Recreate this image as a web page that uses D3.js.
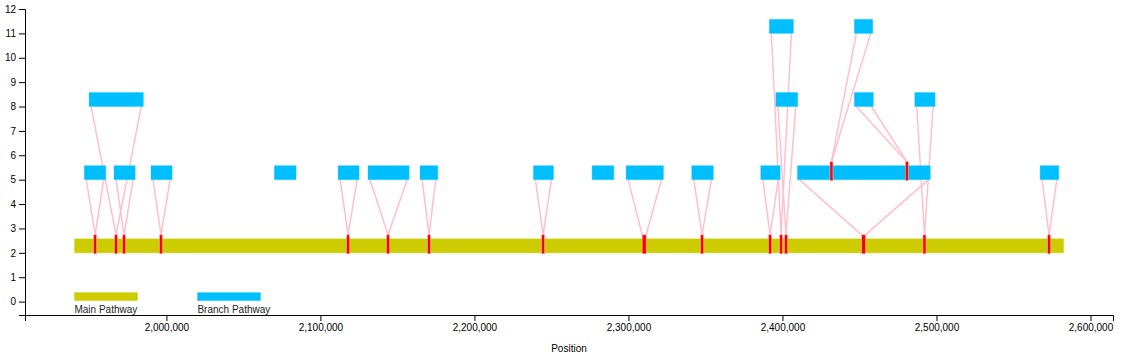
<!DOCTYPE html>
<html>
<head>
<meta charset="utf-8">
<script src="https://cdn.jsdelivr.net/npm/d3@7"></script>
<style>
  body { margin: 0; background: #fff; }
  svg { display: block; }
</style>
</head>
<body>
<div id="chart"></div>
<script>
var width = 1134,
    height = 358,
    margin = {left: 25, right: 21, top: 9, bottom: 43};

// main pathway
var mainStart = 1940300,
    mainEnd = 2582500,
    mainLevel = 2;

// branch pathways (start, end, stacking level)
var branchStart = [1946700, 1966000, 1990000, 2070100, 2111500, 2130900, 2164700, 2238300, 2276400, 2298500,
                   2341100, 2385900, 2409700, 2567300, 1949800, 2395700, 2446700, 2485900, 2391500, 2446700];
var branchEnd   = [1960600, 1979700, 2003700, 2084200, 2125100, 2157600, 2176200, 2251300, 2290500, 2322700,
                   2355100, 2398500, 2496000, 2579400, 1985000, 2409900, 2459000, 2499100, 2407100, 2458600];
var branchLevel = [5, 5, 5, 5, 5, 5, 5, 5, 5, 5,
                   5, 5, 5, 5, 8, 8, 8, 8, 11, 11];
// insertion site on the parent: -1 = main pathway, null = no link, n = branch n
var branchParent = [-1, -1, -1, null, -1, -1, -1, -1, null, -1,
                    -1, -1, -1, -1, -1, -1, 12, -1, -1, 12];
var siteStart = [1953700, 1972500, 1996500, null, 2118000, 2143900, 2170500, 2244600, null, 2308900,
                 2347800, 2392000, 2451400, 2573100, 1967300, 2402300, 2480800, 2492200, 2399100, 2431800];
var siteEnd   = [1953700, 1972500, 1996500, null, 2118000, 2143900, 2170500, 2244600, null, 2311500,
                 2347800, 2392000, 2453900, 2573100, 1967300, 2402300, 2480800, 2492200, 2399100, 2431800];

var xTicks = [2000000, 2100000, 2200000, 2300000, 2400000, 2500000, 2600000];
var yTicks = [0, 1, 2, 3, 4, 5, 6, 7, 8, 9, 10, 11, 12];
var legendLabels = ["Main Pathway", "Branch Pathway"];

var mainColor = "#cccc00",
    branchColor = "#00bfff",
    barH = 14,
    font = "'Liberation Sans', Arial, sans-serif";

var svg = d3.select("#chart").append("svg")
    .attr("width", width)
    .attr("height", height);

var pad = (mainEnd - mainStart) * 0.05;
var x = d3.scaleLinear()
    .domain([mainStart - pad, mainEnd + pad])
    .range([margin.left, width - margin.right]);

var y = d3.scaleLinear()
    .domain([-0.55, 12])
    .range([height - margin.bottom, margin.top]);

svg.append("g")
    .attr("transform", "translate(0," + (height - margin.bottom) + ")")
    .call(d3.axisBottom(x).tickValues(xTicks).tickFormat(d3.format(",")))
    .attr("font-family", font);

svg.append("g")
    .attr("transform", "translate(" + margin.left + ",0)")
    .call(d3.axisLeft(y).tickValues(yTicks))
    .attr("font-family", font);

svg.append("text")
    .attr("x", (margin.left + width - margin.right) / 2)
    .attr("y", height - 6)
    .attr("text-anchor", "middle")
    .attr("font-family", font)
    .attr("font-size", 10)
    .text("Position");

var branches = branchStart.map(function(s, i) {
  return {start: s, end: branchEnd[i], level: branchLevel[i], parent: branchParent[i],
          siteStart: siteStart[i], siteEnd: siteEnd[i]};
});

function parentLevel(b) {
  return b.parent === -1 ? mainLevel : branches[b.parent].level;
}

// links first, bars on top
var linked = branches.filter(function(b) { return b.parent !== null; });

linked.forEach(function(b) {
  var top = y(parentLevel(b)) - barH - 4;
  var sx = x(b.siteStart), ex = x(b.siteEnd);
  if (ex - sx < 1) { sx = ex = (sx + ex) / 2; }
  svg.append("line")
      .attr("x1", x(b.start) + 2).attr("y1", y(b.level))
      .attr("x2", sx).attr("y2", top)
      .attr("stroke", "pink").attr("stroke-width", 1.5);
  svg.append("line")
      .attr("x1", x(b.end) - 2).attr("y1", y(b.level))
      .attr("x2", ex).attr("y2", top)
      .attr("stroke", "pink").attr("stroke-width", 1.5);
});

svg.append("rect")
    .attr("x", x(mainStart))
    .attr("y", y(mainLevel) - barH)
    .attr("width", x(mainEnd) - x(mainStart))
    .attr("height", barH)
    .attr("fill", mainColor)
    .attr("stroke", mainColor)
    .attr("stroke-opacity", 0.35);

svg.selectAll(".branch")
  .data(branches)
  .enter().append("rect")
    .attr("class", "branch")
    .attr("x", function(d) { return x(d.start); })
    .attr("y", function(d) { return y(d.level) - barH; })
    .attr("width", function(d) { return x(d.end) - x(d.start); })
    .attr("height", barH)
    .attr("fill", branchColor)
    .attr("stroke", branchColor)
    .attr("stroke-opacity", 0.35);

svg.selectAll(".site")
  .data(linked)
  .enter().append("rect")
    .attr("class", "site")
    .attr("x", function(d) {
      var w = Math.max(3, x(d.siteEnd) - x(d.siteStart));
      return (x(d.siteStart) + x(d.siteEnd)) / 2 - w / 2;
    })
    .attr("y", function(d) { return y(parentLevel(d)) - barH - 4; })
    .attr("width", function(d) { return Math.max(3, x(d.siteEnd) - x(d.siteStart)); })
    .attr("height", barH + 5)
    .attr("fill", "red")
    .attr("stroke", "pink")
    .attr("stroke-width", 0.5);

// legend
var legendX = [x(mainStart), x(mainStart) + 123];
var legendColors = [mainColor, branchColor];
legendLabels.forEach(function(label, i) {
  svg.append("rect")
      .attr("x", legendX[i])
      .attr("y", y(0) - 9)
      .attr("width", 63)
      .attr("height", 8)
      .attr("fill", legendColors[i])
      .attr("stroke", legendColors[i])
      .attr("stroke-opacity", 0.35);
  svg.append("text")
      .attr("x", legendX[i])
      .attr("y", y(0) + 11)
      .attr("font-family", font)
      .attr("font-size", 10)
      .attr("fill", "#222")
      .text(label);
});
</script>
</body>
</html>
